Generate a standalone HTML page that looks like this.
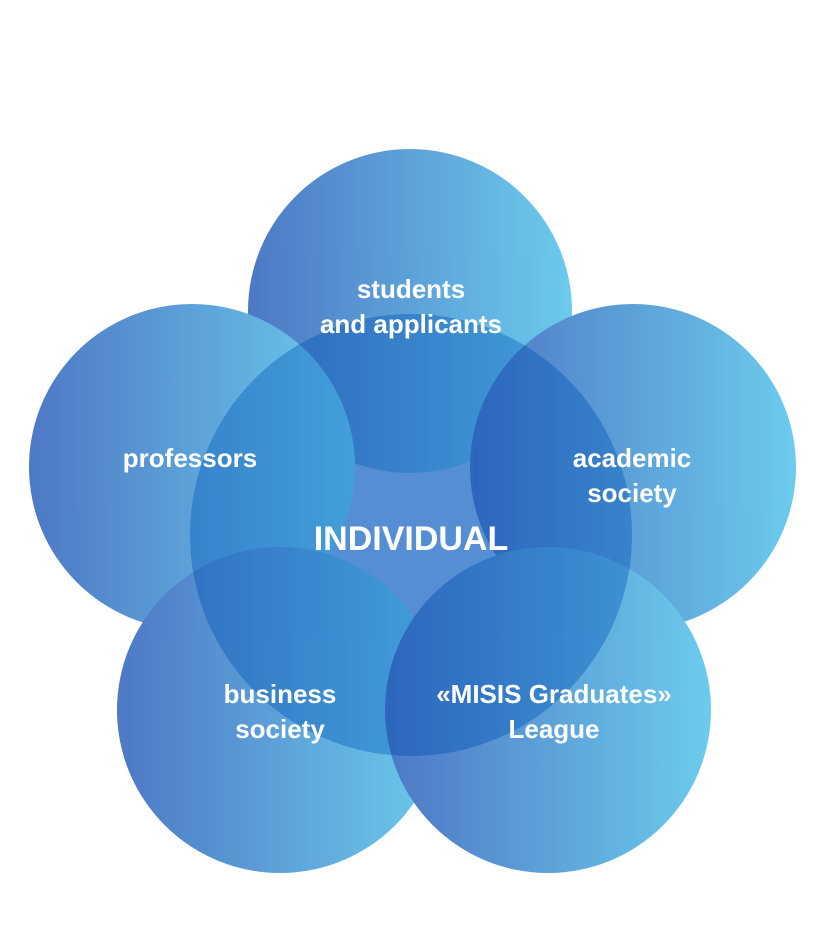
<!DOCTYPE html>
<html><head><meta charset="utf-8"><style>
html,body{margin:0;padding:0;background:#fff;}
svg{display:block}
text{font-family:"Liberation Sans",sans-serif;font-weight:bold;fill:#fff;text-anchor:middle}
</style></head><body>
<svg width="823" height="948" viewBox="0 0 823 948" xmlns="http://www.w3.org/2000/svg">
<defs>
<linearGradient id="g" x1="0" y1="0" x2="1" y2="0">
<stop offset="0" stop-color="#3566bd"/>
<stop offset="1" stop-color="#58c4ea"/>
</linearGradient>
</defs>
<circle cx="411" cy="535" r="221" fill="#1a6cc8" opacity="0.6"/>
<g opacity="0.88">
<circle cx="410" cy="311" r="162" fill="url(#g)"/>
<circle cx="192" cy="467" r="163" fill="url(#g)"/>
<circle cx="633" cy="467" r="163" fill="url(#g)"/>
<circle cx="280" cy="710" r="163" fill="url(#g)"/>
<circle cx="548" cy="710" r="163" fill="url(#g)"/>
</g>
<circle cx="411" cy="535" r="221" fill="#0a55b5" opacity="0.3"/>
<text x="411" y="298" font-size="26">students</text>
<text x="411" y="333" font-size="26">and applicants</text>
<text x="190" y="467" font-size="26">professors</text>
<text x="632" y="467" font-size="26">academic</text>
<text x="632" y="502" font-size="26">society</text>
<text x="411" y="550" font-size="34">INDIVIDUAL</text>
<text x="280" y="703" font-size="26">business</text>
<text x="280" y="738" font-size="26">society</text>
<text x="554" y="703" font-size="26">«MISIS Graduates»</text>
<text x="554" y="738" font-size="26">League</text>
</svg>
</body></html>
